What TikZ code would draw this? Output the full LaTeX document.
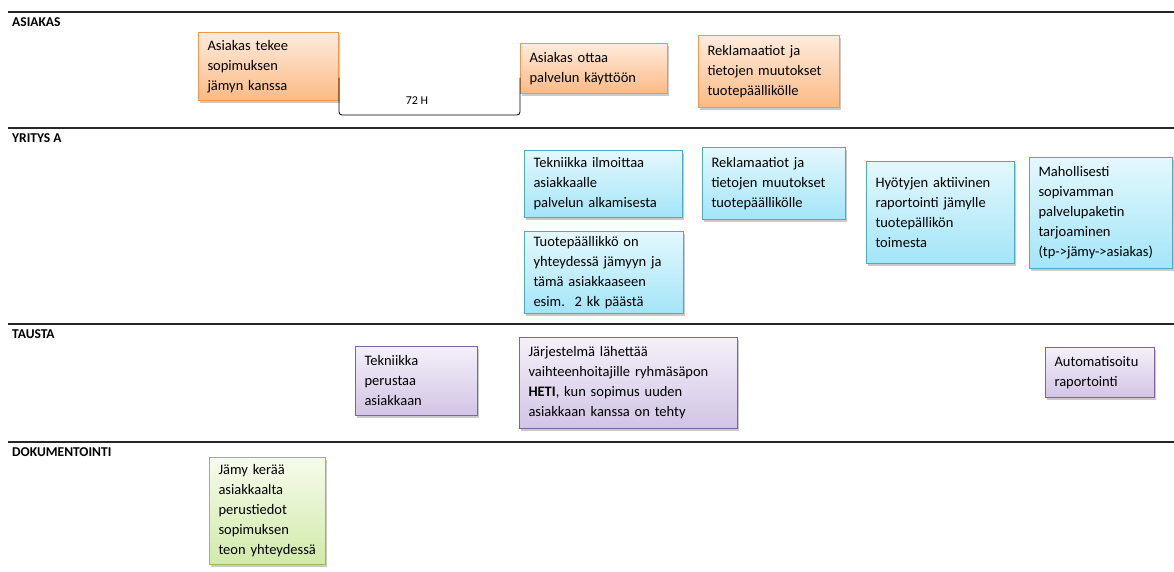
\documentclass[tikz,border=0pt]{standalone}
\usepackage{fontspec}
\setmainfont{Carlito}
\usetikzlibrary{shadows}
\definecolor{oB}{HTML}{F79646}\definecolor{oT}{HTML}{FEEBDD}\definecolor{oD}{HTML}{FBBA84}
\definecolor{bB}{HTML}{4BACC6}\definecolor{bT}{HTML}{E4F8FD}\definecolor{bD}{HTML}{A3E5F8}
\definecolor{pB}{HTML}{8064A2}\definecolor{pT}{HTML}{F4F0F9}\definecolor{pD}{HTML}{D2C4E5}
\definecolor{gB}{HTML}{9BBB59}\definecolor{gT}{HTML}{F6FBEC}\definecolor{gD}{HTML}{D1EAA9}
\tikzset{
  card/.style={draw, line width=1pt, anchor=north west, align=left, inner xsep=9pt, inner ysep=2pt,
    font=\fontsize{14.5}{20}\selectfont,
    drop shadow={shadow xshift=1.5pt, shadow yshift=-2pt, opacity=0.35, fill=black!60}},
  ocard/.style={card, draw=oB, top color=oT, bottom color=oD},
  bcard/.style={card, draw=bB, top color=bT, bottom color=bD},
  pcard/.style={card, draw=pB, top color=pT, bottom color=pD},
  gcard/.style={card, draw=gB, top color=gT, bottom color=gD},
  sz/.code 2 args={\pgfmathsetmacro\cardtw{#1-18}\edef\cardtmp{\noexpand\tikzset{minimum width=#1pt, minimum height=#2pt, text width=\cardtw pt}}\cardtmp},
  lane/.style={draw=black!85, line width=1.2pt},
  lanelabel/.style={anchor=base west, inner sep=0pt, font=\fontsize{13.5}{15}\selectfont\bfseries},
}
\begin{document}
\begin{tikzpicture}[x=1pt,y=-1pt]
\useasboundingbox (0,0) rectangle (1174,571);
% lanes
\coordinate (l1a) at (8,12);  \coordinate (l1b) at (1174,12);
\coordinate (l2a) at (8,128); \coordinate (l2b) at (1174,128);
\coordinate (l3a) at (8,324); \coordinate (l3b) at (1174,324);
\coordinate (l4a) at (8,442); \coordinate (l4b) at (1174,442);
\draw[lane] (l1a) -- (l1b);
\draw[lane] (l2a) -- (l2b);
\draw[lane] (l3a) -- (l3b);
\draw[lane] (l4a) -- (l4b);
\node[lanelabel] (lab1) at (12,26) {ASIAKAS};
\node[lanelabel] (lab2) at (12,142) {YRITYS A};
\node[lanelabel] (lab3) at (12,338) {TAUSTA};
\node[lanelabel] (lab4) at (12,456) {DOKUMENTOINTI};
% ASIAKAS
\node[ocard, sz={140}{68}] (a1) at (198,32) {Asiakas tekee\\sopimuksen\\jämyn kanssa};
\node[ocard, sz={147}{50}] (a2) at (520,43) {Asiakas ottaa\\palvelun käyttöön};
\node[ocard, sz={141}{72}] (a3) at (698,35) {Reklamaatiot ja\\tietojen muutokset\\tuotepäällikölle};
\draw[line width=0.8pt, rounded corners=3pt] ([yshift=-11pt]a1.east) |- (430,115) -| ([yshift=-9pt]a2.west);
\node[font=\fontsize{12}{14}\selectfont, inner sep=1pt] (h72) at (417,101) {72 H};
% YRITYS A
\node[bcard, sz={158}{67}] (b1) at (524,150) {Tekniikka ilmoittaa\\asiakkaalle\\palvelun alkamisesta};
\node[bcard, sz={143}{72}] (b2) at (702,147) {Reklamaatiot ja\\tietojen muutokset\\tuotepäällikölle};
\node[bcard, sz={159}{82}] (b3) at (524,231) {Tuotepäällikkö on\\yhteydessä jämyyn ja\\tämä asiakkaaseen\\esim.\ \ 2 kk päästä};
\node[bcard, sz={148}{102}] (b4) at (866,161) {Hyötyjen aktiivinen\\raportointi jämylle\\tuotepällikön\\toimesta};
\node[bcard, sz={143}{111}] (b5) at (1029,157) {Mahollisesti\\sopivamman\\palvelupaketin\\tarjoaminen\\(tp->jämy->asiakas)};
% TAUSTA
\node[pcard, sz={122}{69}] (c1) at (355,346) {Tekniikka\\perustaa\\asiakkaan};
\node[pcard, sz={218}{91}] (c2) at (519,337) {Järjestelmä lähettää\\vaihteenhoitajille ryhmäsäpon\\\textbf{HETI}, kun sopimus uuden\\asiakkaan kanssa on tehty};
\node[pcard, sz={109}{50}] (c3) at (1045,347) {Automatisoitu\\raportointi};
% DOKUMENTOINTI
\node[gcard, sz={116}{107}] (d1) at (209,457) {Jämy kerää\\asiakkaalta\\perustiedot\\sopimuksen\\teon yhteydessä};
\end{tikzpicture}
\end{document}
